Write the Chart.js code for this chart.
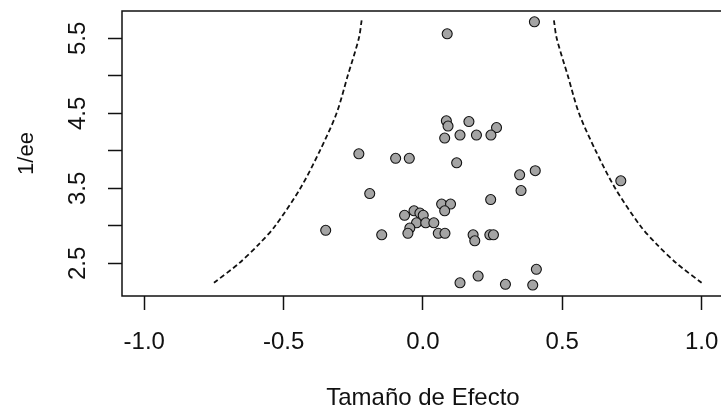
<!DOCTYPE html>
<html>
<head>
<meta charset="utf-8">
<script src="https://cdn.jsdelivr.net/npm/chart.js@4/dist/chart.umd.min.js"></script>
<style>
  html, body { margin: 0; padding: 0; background: #fff; overflow: hidden; }
  #wrap { width: 721px; height: 412px; overflow: hidden; }
</style>
</head>
<body>
<div id="wrap"><canvas id="grafico" width="730" height="412"></canvas></div>
<script>
// tamaño de efecto (eje x) y precisión 1/ee (eje y) de cada estudio
const efecto = [
  0.40, 0.087, 0.084, 0.090, 0.165, 0.264, 0.078, 0.133, 0.192, 0.244,
  -0.23, -0.098, -0.049, 0.121, 0.347, 0.403, 0.352, 0.710, -0.191, 0.243,
  0.067, 0.099, 0.078, -0.066, -0.032, -0.011, 0.001, -0.023, 0.010, 0.039,
  -0.047, -0.054, -0.148, 0.055, 0.079, 0.180, 0.186, 0.240, 0.253, 0.407,
  0.133, 0.198, 0.296, 0.394, -0.349
];
const precision = [
  5.72, 5.56, 4.40, 4.33, 4.39, 4.31, 4.17, 4.21, 4.21, 4.21,
  3.96, 3.90, 3.90, 3.84, 3.68, 3.735, 3.47, 3.60, 3.43, 3.35,
  3.29, 3.29, 3.20, 3.14, 3.20, 3.17, 3.14, 3.04, 3.04, 3.04,
  2.97, 2.90, 2.88, 2.90, 2.90, 2.88, 2.80, 2.88, 2.88, 2.42,
  2.24, 2.33, 2.22, 2.21, 2.94
];

// curvas del embudo
const embudoY = [2.24, 2.5, 2.75, 3.0, 3.5, 4.0, 4.5, 5.0, 5.5, 5.74];
const embudoIzq = [-0.75, -0.66, -0.59, -0.53, -0.44, -0.37, -0.31, -0.27, -0.23, -0.22];
const embudoDer = [1.0, 0.91, 0.84, 0.78, 0.69, 0.62, 0.56, 0.52, 0.48, 0.47];

const xTicks = [-1.0, -0.5, 0.0, 0.5, 1.0];
const yTicks = [2.5, 3.0, 3.5, 4.0, 4.5, 5.0, 5.5];
const yConEtiqueta = [2.5, 3.5, 4.5, 5.5];

const puntos = efecto.map((x, i) => ({ x, y: precision[i] }));
const curvaIzq = embudoY.map((y, i) => ({ x: embudoIzq[i], y }));
const curvaDer = embudoY.map((y, i) => ({ x: embudoDer[i], y }));

const FUENTE = "'Liberation Sans', Arial, sans-serif";

// caja alrededor del área de trazado (estilo R)
const caja = {
  id: "caja",
  afterDraw(chart) {
    const { ctx, chartArea: a } = chart;
    ctx.save();
    ctx.strokeStyle = "#111";
    ctx.lineWidth = 1.5;
    ctx.strokeRect(a.left, a.top, a.right - a.left, a.bottom - a.top);
    ctx.restore();
  },
};

const estiloLinea = {
  type: "line",
  showLine: true,
  borderColor: "#111",
  borderWidth: 1.8,
  borderDash: [5, 3],
  pointRadius: 0,
  tension: 0.3,
  fill: false,
};

new Chart(document.getElementById("grafico"), {
  type: "scatter",
  data: {
    datasets: [
      { ...estiloLinea, data: curvaIzq },
      { ...estiloLinea, data: curvaDer },
      {
        data: puntos,
        pointRadius: 5,
        pointBackgroundColor: "#a4a4a4",
        pointBorderColor: "#111",
        pointBorderWidth: 1.1,
      },
    ],
  },
  options: {
    responsive: false,
    animation: false,
    layout: { padding: { top: 11, right: 5, left: 0, bottom: 0 } },
    plugins: { legend: { display: false }, tooltip: { enabled: false } },
    scales: {
      x: {
        type: "linear",
        min: -1.08,
        max: 1.08,
        afterBuildTicks: (s) => { s.ticks = xTicks.map((v) => ({ value: v })); },
        afterFit: (s) => {
          s.height = 116;
          s.paddingLeft = 0;
          s.paddingRight = 0;
        },
        grid: { drawOnChartArea: false, drawTicks: true, tickLength: 14, tickColor: "#111", tickWidth: 1.5 },
        border: { display: false },
        ticks: {
          padding: 18,
          maxRotation: 0,
          color: "#111",
          font: { family: FUENTE, size: 24 },
          callback: (v) => Number(v).toFixed(1),
        },
        title: {
          display: true,
          text: "Tamaño de Efecto",
          color: "#111",
          font: { family: FUENTE, size: 24 },
          padding: { top: 0, bottom: -1 },
        },
      },
      y: {
        type: "linear",
        min: 2.064,
        max: 5.864,
        afterBuildTicks: (s) => { s.ticks = yTicks.map((v) => ({ value: v })); },
        afterFit: (s) => {
          s.width = 122;
          s.paddingTop = 0;
          s.paddingBottom = 0;
        },
        grid: { drawOnChartArea: false, drawTicks: true, tickLength: 14, tickColor: "#111", tickWidth: 1.5 },
        border: { display: false },
        ticks: {
          padding: 13,
          minRotation: 90,
          maxRotation: 90,
          crossAlign: "center",
          color: "#111",
          font: { family: FUENTE, size: 24 },
          callback: (v) => (yConEtiqueta.includes(v) ? Number(v).toFixed(1) : ""),
        },
        title: {
          display: true,
          text: "1/ee",
          color: "#111",
          font: { family: FUENTE, size: 22 },
          padding: { top: 14, bottom: 0 },
        },
      },
    },
  },
  plugins: [caja],
});
</script>
</body>
</html>
